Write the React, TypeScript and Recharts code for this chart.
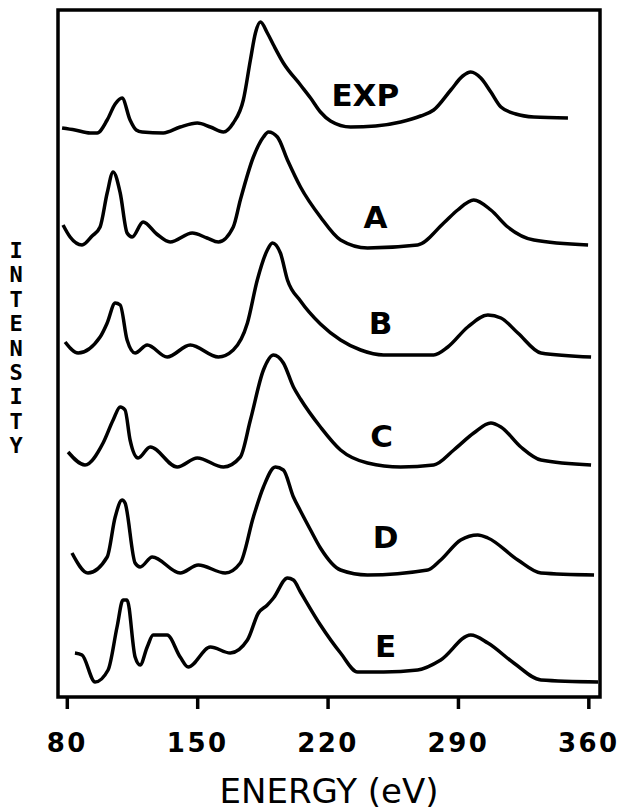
import { LineChart, Line, XAxis, YAxis, ReferenceArea, ReferenceDot } from 'recharts'

// energy axis (eV)
const ENERGY_TICKS = [80, 150, 220, 290, 360]
const ENERGY_DOMAIN: [number, number] = [75, 366]

// spectra: [energy eV, intensity above the spectrum's own baseline]
const expSpectrum = [
  [77.2, 5], [84.1, 3], [92.2, 0], [96.0, 0], [101.4, 13], [105.7, 29], [109.4, 35], [113.7, 13],
  [117.0, 3], [120.2, 1], [131.5, 0], [140.6, 6], [149.8, 10], [156.8, 6], [163.8, 1], [169.1, 10],
  [174.5, 33], [178.3, 73], [181.0, 100], [183.7, 111], [187.4, 100], [190.7, 88], [196.0, 70],
  [205.2, 48], [210.6, 35], [215.9, 21], [221.3, 12], [232.1, 6], [245.5, 7], [259.0, 11],
  [269.7, 17], [276.7, 23], [285.9, 43], [292.3, 57], [296.6, 61], [302.0, 55], [307.4, 41],
  [312.8, 26], [320.8, 19], [330.5, 16], [348.8, 15],
]
const calcA = [
  [77.7, 23], [81.5, 11], [87.9, 3], [93.3, 12], [97.6, 21], [101.4, 55], [104.6, 76], [108.4, 55],
  [112.1, 15], [114.8, 11], [120.7, 26], [128.0, 14], [135.2, 6], [147.1, 15], [155.0, 10],
  [161.1, 6], [169.1, 21], [172.9, 48], [179.9, 91], [185.3, 111], [188.0, 116], [192.8, 111],
  [198.2, 88], [205.2, 61], [215.9, 31], [226.7, 8], [241.2, 0], [268.1, 3], [282.1, 25],
  [289.6, 38], [298.2, 48], [307.4, 38], [316.5, 21], [330.5, 8], [359.6, 3],
]
const calcB = [
  [78.8, 15], [85.8, 4], [97.6, 20], [101.4, 34], [105.7, 54], [108.4, 52], [112.1, 17], [116.4, 4],
  [122.9, 12], [133.6, 0], [146.0, 12], [161.1, 0], [169.1, 7], [176.7, 34], [182.0, 77],
  [187.4, 107], [190.1, 114], [194.4, 104], [198.2, 77], [205.2, 56], [215.9, 33], [226.7, 17],
  [237.5, 7], [249.8, 2], [276.7, 2], [284.3, 10], [295.0, 30], [305.8, 42], [312.8, 39],
  [321.9, 24], [334.3, 4], [361.2, 0],
]
const calcC = [
  [80.4, 15], [89.5, 2], [99.2, 24], [104.6, 47], [108.4, 60], [111.0, 57], [113.7, 27], [118.0, 9],
  [124.5, 20], [139.0, 0], [149.8, 9], [163.8, 0], [172.9, 10], [178.3, 47], [185.3, 97],
  [190.7, 112], [196.0, 104], [201.4, 80], [205.2, 68], [215.9, 40], [226.7, 17], [241.2, 4],
  [259.0, 0], [276.7, 2], [287.5, 17], [298.2, 34], [307.4, 44], [312.8, 40], [323.5, 20],
  [334.3, 7], [361.2, 2],
]
const calcD = [
  [82.5, 22], [91.1, 2], [101.4, 18], [105.7, 58], [109.4, 75], [111.0, 72], [116.4, 12], [119.1, 8],
  [125.6, 18], [140.6, 2], [150.3, 10], [164.8, 2], [172.9, 12], [179.9, 58], [185.3, 88],
  [191.7, 108], [196.0, 105], [201.4, 78], [205.2, 64], [210.6, 45], [215.9, 27], [226.7, 5],
  [241.2, 0], [273.5, 5], [280.5, 15], [291.2, 35], [300.4, 40], [305.8, 37], [321.9, 15],
  [334.3, 2], [362.8, 0],
]
const calcE = [
  [84.1, 29], [87.9, 27], [94.9, 0], [101.9, 12], [106.7, 55], [109.9, 82], [112.1, 82], [116.4, 25],
  [119.1, 17], [122.9, 35], [126.1, 47], [133.6, 47], [140.6, 25], [144.9, 15], [156.8, 35],
  [167.5, 29], [176.7, 42], [182.6, 69], [187.4, 77], [190.7, 84], [198.2, 104], [201.4, 102],
  [205.2, 90], [215.9, 57], [226.7, 29], [235.9, 10], [249.8, 10], [268.1, 12], [280.5, 22],
  [296.6, 47], [305.8, 39], [319.7, 19], [334.3, 2], [365.0, 0],
]

const SPECTRUM_NAMES = ['EXP', 'A', 'B', 'C', 'D', 'E']
const SPECTRUM_POINTS = [expSpectrum, calcA, calcB, calcC, calcD, calcE]
// vertical offset of each trace in the stack
const BASELINES = [564, 449, 340, 230, 122, 15]

// where each trace name sits: [energy, stacked intensity]
const NAME_ANCHORS = [[240, 602], [245.5, 480], [248.2, 374], [248.7, 261], [250.9, 160], [250.9, 51]]

const FONT = '"DejaVu Sans", sans-serif'

const spectra = SPECTRUM_NAMES.map((name, i) => ({
  name,
  points: SPECTRUM_POINTS[i].map(([x, v]) => ({ x, y: v + BASELINES[i] })),
}))

export default function App() {
  return (
    <div style={{ position: 'relative', width: 617, height: 803 }}>
      <LineChart width={617} height={803} margin={{ top: 2, right: 25, bottom: 6, left: 50 }}>
        <XAxis
          dataKey="x"
          type="number"
          domain={ENERGY_DOMAIN}
          ticks={ENERGY_TICKS}
          allowDataOverflow
          axisLine={false}
          tickSize={12}
          tickMargin={25}
          height={108}
          tickLine={{ stroke: '#000', strokeWidth: 3.5 }}
          tick={{ fill: '#000', fontSize: 26, fontWeight: 700, fontFamily: FONT, letterSpacing: 2.5 }}
          label={{
            value: 'ENERGY (eV)',
            position: 'insideBottom',
            offset: 2,
            fill: '#000',
            fontSize: 34,
            fontFamily: FONT,
          }}
        />
        <YAxis hide type="number" domain={[0, 687]} allowDataOverflow />

        {/* plot frame */}
        <ReferenceArea
          x1={ENERGY_DOMAIN[0]}
          x2={ENERGY_DOMAIN[1]}
          y1={0}
          y2={687}
          fill="none"
          stroke="#000"
          strokeWidth={3.5}
          fillOpacity={0}
          strokeOpacity={1}
        />

        {spectra.map(s => (
          <Line
            key={s.name}
            data={s.points}
            dataKey="y"
            type="monotone"
            stroke="#000"
            strokeWidth={3.5}
            dot={false}
            activeDot={false}
            isAnimationActive={false}
          />
        ))}

        {spectra.map((s, i) => (
          <ReferenceDot
            key={`name-${s.name}`}
            x={NAME_ANCHORS[i][0]}
            y={NAME_ANCHORS[i][1]}
            r={0}
            stroke="none"
            fill="none"
            label={{
              value: s.name,
              position: 'center',
              fill: '#000',
              fontSize: 31,
              fontWeight: 700,
              fontFamily: FONT,
            }}
          />
        ))}
      </LineChart>

      {/* stacked vertical axis title */}
      <div
        style={{
          position: 'absolute',
          left: -5,
          top: 231,
          width: 26,
          textAlign: 'center',
          fontFamily: '"DejaVu Sans Mono", monospace',
          fontWeight: 700,
          fontSize: 22,
          lineHeight: '24.4px',
          color: '#000',
          pointerEvents: 'none',
        }}
      >
        {'INTENSITY'.split('').map((ch, i) => (
          <div key={i}>{ch}</div>
        ))}
      </div>
    </div>
  )
}
